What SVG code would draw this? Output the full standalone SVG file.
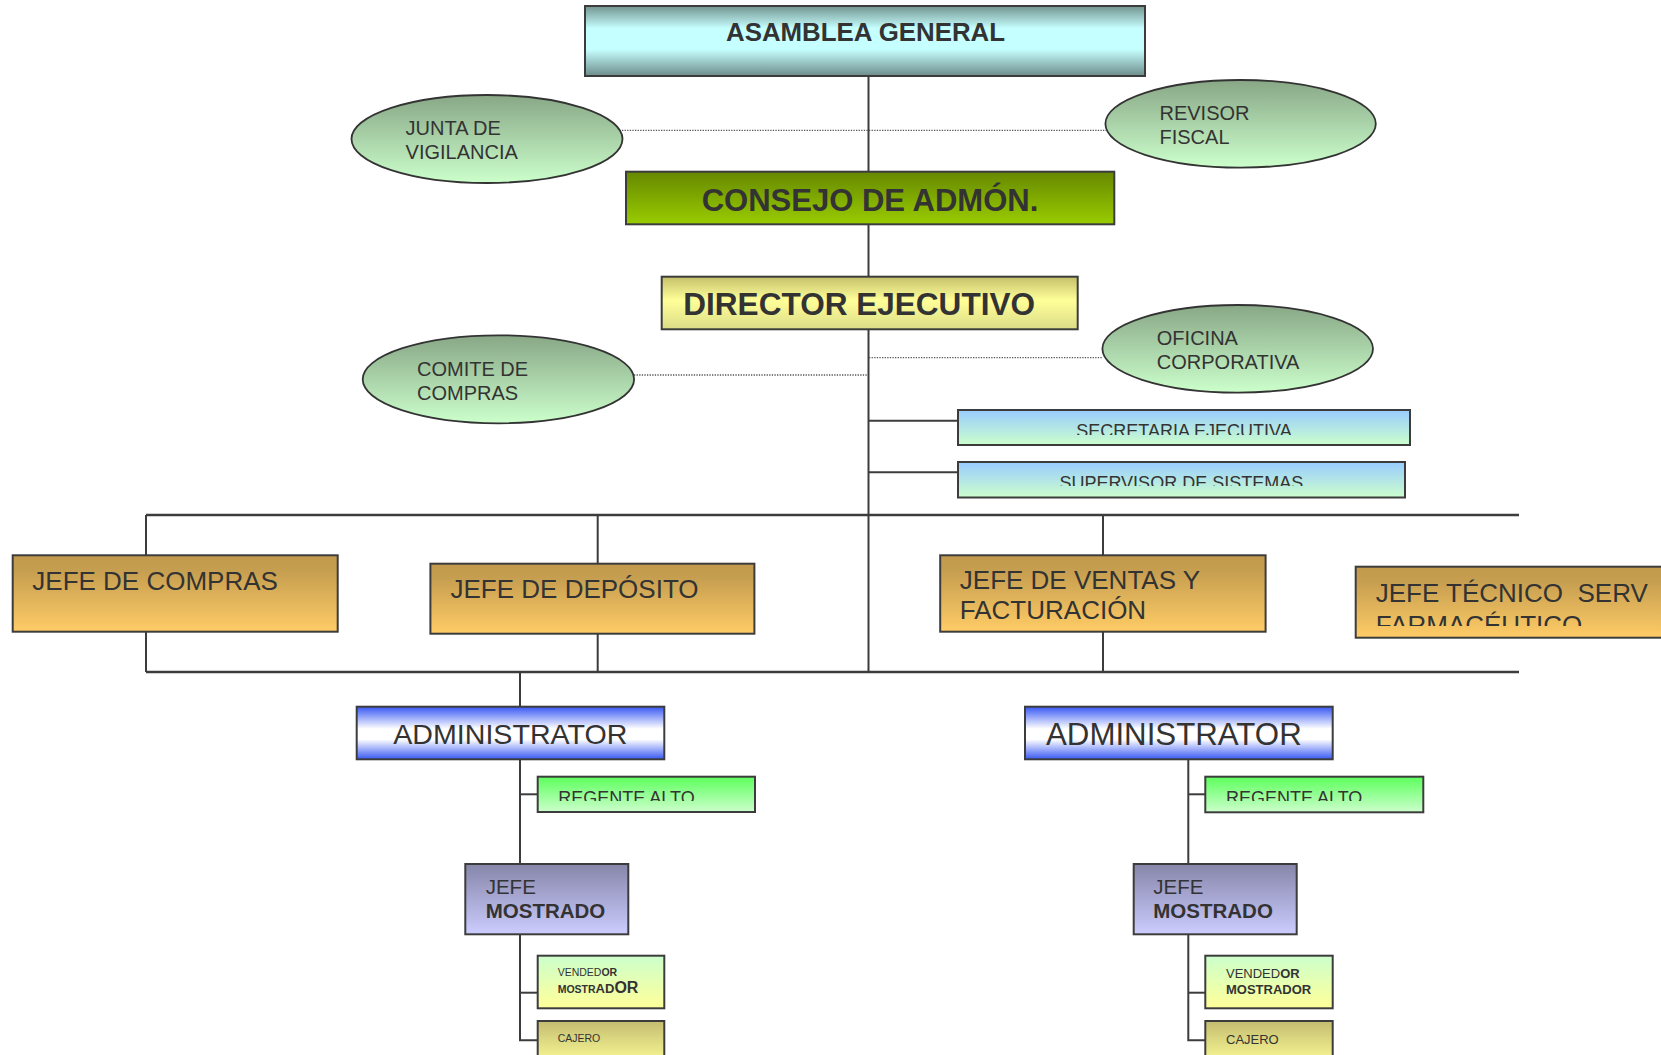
<svg xmlns="http://www.w3.org/2000/svg" width="1661" height="1055" viewBox="0 0 1661 1055">
<defs>
<linearGradient id="gAsam" x1="0" y1="0" x2="0" y2="1"><stop offset="0" stop-color="#72948f"/><stop offset="0.32" stop-color="#c6ffff"/><stop offset="0.62" stop-color="#c6ffff"/><stop offset="1" stop-color="#6c8c8a"/></linearGradient>
<linearGradient id="gEll" x1="0" y1="0" x2="0" y2="1"><stop offset="0" stop-color="#88a786"/><stop offset="1" stop-color="#ccffcc"/></linearGradient>
<linearGradient id="gCons" x1="0" y1="0" x2="0" y2="1"><stop offset="0" stop-color="#668800"/><stop offset="1" stop-color="#99cc00"/></linearGradient>
<linearGradient id="gDir" x1="0" y1="0" x2="0" y2="1"><stop offset="0" stop-color="#c4c06a"/><stop offset="0.45" stop-color="#ffff99"/><stop offset="1" stop-color="#dcdc88"/></linearGradient>
<linearGradient id="gSec" x1="0" y1="0" x2="0" y2="1"><stop offset="0" stop-color="#99ccff"/><stop offset="1" stop-color="#ccffcc"/></linearGradient>
<linearGradient id="gJefe" x1="0" y1="0" x2="0" y2="1"><stop offset="0" stop-color="#c39a4d"/><stop offset="0.2" stop-color="#c69e50"/><stop offset="1" stop-color="#ffcc66"/></linearGradient>
<linearGradient id="gAdm" x1="0" y1="0" x2="0" y2="1"><stop offset="0" stop-color="#3858f4"/><stop offset="0.42" stop-color="#ffffff"/><stop offset="0.62" stop-color="#ffffff"/><stop offset="1" stop-color="#3858f4"/></linearGradient>
<linearGradient id="gReg" x1="0" y1="0" x2="0" y2="1"><stop offset="0" stop-color="#5cff5c"/><stop offset="1" stop-color="#ccffcc"/></linearGradient>
<linearGradient id="gJM" x1="0" y1="0" x2="0" y2="1"><stop offset="0" stop-color="#8686aa"/><stop offset="1" stop-color="#ccccff"/></linearGradient>
<linearGradient id="gVend" x1="0" y1="0" x2="0" y2="1"><stop offset="0" stop-color="#ccffcc"/><stop offset="1" stop-color="#ffff99"/></linearGradient>
<linearGradient id="gCaj" x1="0" y1="0" x2="0" y2="1"><stop offset="0" stop-color="#c4bc70"/><stop offset="1" stop-color="#ffff99"/></linearGradient>
<clipPath id="cSec"><rect x="958" y="410" width="452" height="25"/></clipPath>
<clipPath id="cSup"><rect x="958" y="462" width="447" height="24"/></clipPath>
<clipPath id="cTec"><rect x="1356" y="567" width="310" height="59"/></clipPath>
<clipPath id="cReg1"><rect x="538" y="777" width="217" height="24"/></clipPath>
<clipPath id="cReg2"><rect x="1205" y="777" width="218" height="24"/></clipPath>
<style>
.box{stroke:#3c3c3c;stroke-width:2}
.ell{fill:url(#gEll);stroke:#333;stroke-width:1.8}
.ln{stroke:#3c3c3c;stroke-width:2;fill:none}
.bus{stroke:#3c3c3c;stroke-width:2.5;fill:none}
.dot{stroke:#555;stroke-width:1.3;stroke-dasharray:1.3 1.3;fill:none}
text{font-family:"Liberation Sans",Arial,sans-serif;fill:#333}
.b{font-weight:bold}
.e{font-size:20px}
.j{font-size:26px}
</style>
</defs>

<g id="connectors">
<line class="ln" x1="868.5" y1="76" x2="868.5" y2="672"/>
<line class="dot" x1="622" y1="130.3" x2="1106" y2="130.3"/>
<line class="dot" x1="634" y1="375" x2="868" y2="375"/>
<line class="dot" x1="869" y1="357.7" x2="1103" y2="357.7"/>
<line class="ln" x1="868.5" y1="420.7" x2="958" y2="420.7"/>
<line class="ln" x1="868.5" y1="472.3" x2="958" y2="472.3"/>
<line class="bus" x1="146" y1="515" x2="1519" y2="515"/>
<line class="bus" x1="146" y1="672" x2="1519" y2="672"/>
<line class="ln" x1="146" y1="515" x2="146" y2="672"/>
<line class="ln" x1="597.7" y1="515" x2="597.7" y2="672"/>
<line class="ln" x1="1103" y1="515" x2="1103" y2="672"/>
<line class="ln" x1="520" y1="672" x2="520" y2="707"/>
<polyline class="ln" points="520,759 520,1040.3 538,1040.3"/>
<line class="ln" x1="520" y1="794.3" x2="538" y2="794.3"/>
<line class="ln" x1="520" y1="992.7" x2="538" y2="992.7"/>
<polyline class="ln" points="1188.3,759 1188.3,1040.3 1205.3,1040.3"/>
<line class="ln" x1="1188.3" y1="794.3" x2="1205.3" y2="794.3"/>
<line class="ln" x1="1188.3" y1="992.7" x2="1205.3" y2="992.7"/>
</g>

<g id="asamblea">
<rect class="box" x="585" y="6" width="560" height="70" fill="url(#gAsam)"/>
<text class="b" x="865.5" y="40.7" font-size="25.5" text-anchor="middle" textLength="279" lengthAdjust="spacingAndGlyphs">ASAMBLEA GENERAL</text>
</g>

<g id="junta">
<ellipse class="ell" cx="487" cy="139" rx="135.5" ry="44"/>
<text class="e" x="405.6" y="135.3">JUNTA DE</text>
<text class="e" x="405.6" y="159.3">VIGILANCIA</text>
</g>

<g id="revisor">
<ellipse class="ell" cx="1240.6" cy="123.8" rx="135.2" ry="43.8"/>
<text class="e" x="1159.5" y="120">REVISOR</text>
<text class="e" x="1159.5" y="144">FISCAL</text>
</g>

<g id="consejo">
<rect class="box" x="626" y="171.7" width="488.3" height="52.6" fill="url(#gCons)"/>
<text class="b" x="870" y="210.7" font-size="31" text-anchor="middle" textLength="336.7" lengthAdjust="spacingAndGlyphs">CONSEJO DE ADMÓN.</text>
</g>

<g id="director">
<rect class="box" x="661.7" y="276.7" width="416" height="52.6" fill="url(#gDir)"/>
<text class="b" x="683.3" y="315.3" font-size="31.5" textLength="351.7" lengthAdjust="spacingAndGlyphs">DIRECTOR EJECUTIVO</text>
</g>

<g id="comite">
<ellipse class="ell" cx="498.4" cy="379.3" rx="135.7" ry="44"/>
<text class="e" x="417" y="376">COMITE DE</text>
<text class="e" x="417" y="400">COMPRAS</text>
</g>

<g id="oficina">
<ellipse class="ell" cx="1237.7" cy="348.8" rx="135.3" ry="43.8"/>
<text class="e" x="1156.8" y="345.3">OFICINA</text>
<text class="e" x="1156.8" y="369.3">CORPORATIVA</text>
</g>

<g id="secretaria">
<rect class="box" x="958" y="410" width="452" height="35" fill="url(#gSec)"/>
<text x="1184" y="437" font-size="18" text-anchor="middle" clip-path="url(#cSec)">SECRETARIA EJECUTIVA</text>
</g>

<g id="supervisor">
<rect class="box" x="958" y="462" width="447" height="35.5" fill="url(#gSec)"/>
<text x="1181.3" y="489" font-size="18" text-anchor="middle" clip-path="url(#cSup)">SUPERVISOR DE SISTEMAS</text>
</g>

<g id="jefe-compras">
<rect class="box" x="12.7" y="555.3" width="325" height="76.4" fill="url(#gJefe)"/>
<text class="j" x="32.3" y="590">JEFE DE COMPRAS</text>
</g>

<g id="jefe-deposito">
<rect class="box" x="430.4" y="563.7" width="324" height="70" fill="url(#gJefe)"/>
<text class="j" x="450.5" y="597.5">JEFE DE DEPÓSITO</text>
</g>

<g id="jefe-ventas">
<rect class="box" x="940.2" y="555.3" width="325.4" height="76.4" fill="url(#gJefe)"/>
<text class="j" x="959.8" y="589.3">JEFE DE VENTAS Y</text>
<text class="j" x="959.8" y="619.3">FACTURACIÓN</text>
</g>

<g id="jefe-tecnico">
<rect class="box" x="1355.7" y="566.7" width="340" height="71" fill="url(#gJefe)"/>
<g clip-path="url(#cTec)">
<text class="j" x="1375.7" y="602" xml:space="preserve">JEFE TÉCNICO  SERV</text>
<text class="j" x="1375.7" y="634">FARMACÉUTICO</text>
</g>
</g>

<g id="admin-1">
<rect class="box" x="356.7" y="706.7" width="307.6" height="52.6" fill="url(#gAdm)"/>
<text x="393.3" y="744" font-size="28.5" textLength="234" lengthAdjust="spacingAndGlyphs">ADMINISTRATOR</text>
</g>

<g id="regente-1">
<rect class="box" x="537.7" y="776.7" width="217.3" height="35.3" fill="url(#gReg)"/>
<text x="558.3" y="804" font-size="18" clip-path="url(#cReg1)">REGENTE ALTO</text>
</g>

<g id="jefe-mostrado-1">
<rect class="box" x="465.3" y="864" width="163" height="70.3" fill="url(#gJM)"/>
<text x="485.7" y="894" font-size="20.5">JEFE</text>
<text class="b" x="485.7" y="918" font-size="20.5">MOSTRADO</text>
</g>

<g id="vendedor-1">
<rect class="box" x="537.7" y="955.7" width="126.6" height="52.6" fill="url(#gVend)"/>
<text x="557.7" y="975.7" font-size="10.5">VENDED<tspan class="b">OR</tspan></text>
<text class="b" x="557.7" y="992.7" font-size="10.5">MOSTR<tspan font-size="13">AD</tspan><tspan font-size="16">OR</tspan></text>
</g>

<g id="cajero-1">
<rect class="box" x="537.7" y="1021" width="126.6" height="45" fill="url(#gCaj)"/>
<text x="557.7" y="1042" font-size="10.5">CAJERO</text>
</g>

<g id="admin-2">
<rect class="box" x="1025" y="706.7" width="307.7" height="52.6" fill="url(#gAdm)"/>
<text x="1046" y="744.7" font-size="31" textLength="255.7" lengthAdjust="spacingAndGlyphs">ADMINISTRATOR</text>
</g>

<g id="regente-2">
<rect class="box" x="1205.3" y="776.7" width="218" height="35.6" fill="url(#gReg)"/>
<text x="1226" y="804" font-size="18" clip-path="url(#cReg2)">REGENTE ALTO</text>
</g>

<g id="jefe-mostrado-2">
<rect class="box" x="1133.7" y="864" width="163" height="70.3" fill="url(#gJM)"/>
<text x="1153.3" y="894" font-size="20.5">JEFE</text>
<text class="b" x="1153.3" y="918" font-size="20.5">MOSTRADO</text>
</g>

<g id="vendedor-2">
<rect class="box" x="1205.3" y="955.7" width="127.4" height="52.6" fill="url(#gVend)"/>
<text x="1226" y="978" font-size="13">VENDED<tspan class="b">OR</tspan></text>
<text class="b" x="1226" y="994" font-size="13">MOSTRADOR</text>
</g>

<g id="cajero-2">
<rect class="box" x="1205.3" y="1021" width="127.4" height="45" fill="url(#gCaj)"/>
<text x="1226" y="1043.7" font-size="13">CAJERO</text>
</g>
</svg>
